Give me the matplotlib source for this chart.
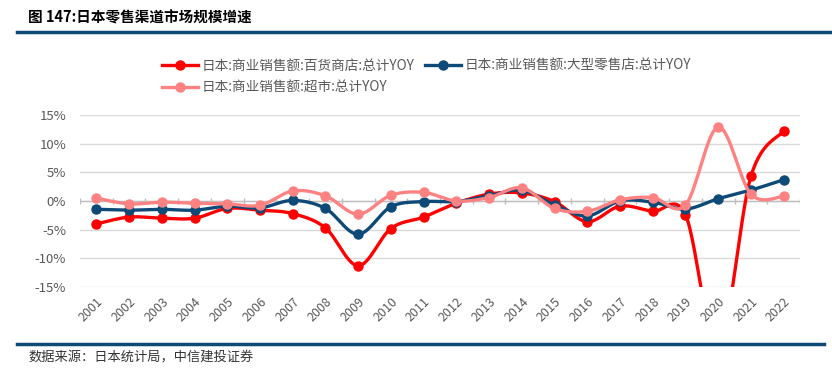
import numpy as np
import matplotlib
matplotlib.use("Agg")
import matplotlib.pyplot as plt

plt.rcParams["font.family"] = ["Noto Sans CJK SC", "DejaVu Sans"]

years = [str(y) for y in range(2001, 2023)]

# YoY growth, %
dept_store = [-4.0, -2.8, -3.0, -3.0, -1.3, -1.6, -2.2, -4.7, -11.3, -4.8, -2.8,
              -0.4, 1.2, 1.4, -0.1, -3.6, -0.9, -1.8, -2.4, -25.7, 4.3, 12.2]
large_retail = [-1.45, -1.6, -1.45, -1.6, -0.9, -1.2, 0.1, -1.3, -5.8, -1.0, -0.1,
                -0.1, 0.9, 1.9, -0.7, -2.6, 0.0, -0.2, -1.4, 0.4, 1.9, 3.7]
supermarket = [0.5, -0.5, -0.2, -0.4, -0.5, -0.75, 1.75, 0.9, -2.3, 1.0, 1.5,
               0.0, 0.6, 2.3, -1.3, -1.8, 0.2, 0.6, -0.7, 12.9, 1.2, 0.8]

series_labels = ["日本:商业销售额:百货商店:总计YOY",
                 "日本:商业销售额:大型零售店:总计YOY",
                 "日本:商业销售额:超市:总计YOY"]
colors = ["#FF0000", "#0D4A78", "#FF8282"]


def smooth(x, y, n=30):
    """Catmull-Rom style cubic bezier through points (like Excel smoothed lines)."""
    x = np.asarray(x, float)
    y = np.asarray(y, float)
    px = np.concatenate([[x[0]], x, [x[-1]]])
    py = np.concatenate([[y[0]], y, [y[-1]]])
    xs, ys = [], []
    t = np.linspace(0, 1, n)
    for i in range(1, len(px) - 2):
        p0 = np.array([px[i], py[i]])
        p3 = np.array([px[i + 1], py[i + 1]])
        c1 = p0 + (np.array([px[i + 1], py[i + 1]]) - np.array([px[i - 1], py[i - 1]])) / 6
        c2 = p3 - (np.array([px[i + 2], py[i + 2]]) - np.array([px[i], py[i]])) / 6
        b = ((1 - t) ** 3)[:, None] * p0 + (3 * (1 - t) ** 2 * t)[:, None] * c1 \
            + (3 * (1 - t) * t ** 2)[:, None] * c2 + (t ** 3)[:, None] * p3
        xs.extend(b[:, 0])
        ys.extend(b[:, 1])
    return np.array(xs), np.array(ys)


fig = plt.figure(figsize=(8.32, 3.85), dpi=100)
ax = fig.add_axes([80 / 832, 1 - 287 / 385, 720 / 832, 172 / 385])

xpos = np.arange(len(years))
handles = []
for vals, lab, col in zip([dept_store, large_retail, supermarket], series_labels, colors):
    sx, sy = smooth(xpos, vals)
    ax.plot(sx, sy, color=col, lw=2.4, solid_capstyle="round", zorder=3)
    ax.plot(xpos, vals, "o", color=col, ms=6.5, zorder=3)
    h, = ax.plot([], [], "-o", color=col, lw=2.4, ms=6.5, label=lab)
    handles.append(h)

ax.set_xlim(-0.5, len(years) - 0.5)
ax.set_ylim(-15, 15)
ax.set_yticks([-15, -10, -5, 0, 5, 10, 15])
ax.set_yticklabels([f"{v}%" for v in [-15, -10, -5, 0, 5, 10, 15]])
ax.yaxis.grid(True, color="#D9D9D9", lw=1)
ax.set_axisbelow(True)
for s in ax.spines.values():
    s.set_visible(False)
ax.tick_params(axis="y", length=0, labelsize=9.5, labelcolor="#595959", pad=10)
ax.set_xticks(xpos)
ax.set_xticklabels(years, rotation=45, ha="right", rotation_mode="anchor")
ax.tick_params(axis="x", length=0, labelsize=9, labelcolor="#595959", pad=6)

# zero axis line with category tick marks
ax.axhline(0, color="#BFBFBF", lw=1, zorder=1)
ax.vlines(np.arange(-0.5, len(years)), -0.6, 0.6, color="#BFBFBF", lw=1, zorder=1)

# column-major fill: red, pink in column 1, blue in column 2
order = [0, 2, 1]
fig.legend([handles[i] for i in order], [series_labels[i] for i in order],
           loc="upper left", bbox_to_anchor=(150 / 832, 1 - 47 / 385),
           ncol=2, frameon=False, fontsize=9.8, labelcolor="#595959",
           handlelength=2.6, columnspacing=0.8, handletextpad=0.3, labelspacing=0.55)

fig.text(28 / 832, 1 - 18 / 385, "图 147:日本零售渠道市场规模增速", fontsize=10.5,
         fontweight="bold", va="center", ha="left")
fig.add_artist(plt.Line2D([17 / 832, 1], [1 - 32 / 385] * 2, color="#0D4A78", lw=2.5))
fig.add_artist(plt.Line2D([17 / 832, 824 / 832], [1 - 344 / 385] * 2, color="#0D4A78", lw=2.5))
fig.text(28 / 832, 1 - 358 / 385, "数据来源：日本统计局，中信建投证券", fontsize=9.5,
         va="center", ha="left", color="#333333", style="italic")

fig.savefig("out.png", dpi=100)
